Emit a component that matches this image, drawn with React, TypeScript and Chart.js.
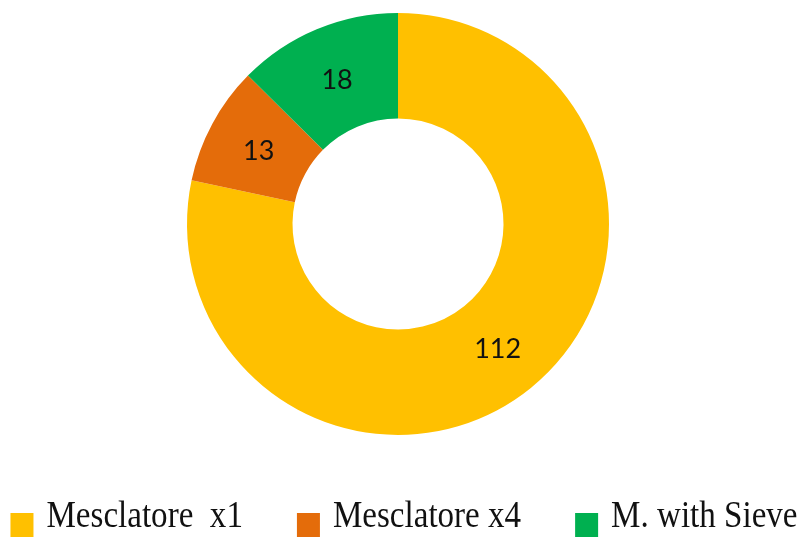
import React, { useEffect, useRef } from "react";
import { Chart, registerables } from "chart.js";

Chart.register(...registerables);

const categories = ["Mesclatore  x1", "Mesclatore x4", "M. with Sieve"];
const values = [112, 13, 18];
const colors = ["#FFC000", "#E46C0A", "#00B050"];

const sliceLabels = {
  id: "sliceLabels",
  afterDatasetsDraw(chart: any) {
    const ctx = chart.ctx;
    const meta = chart.getDatasetMeta(0);
    ctx.save();
    ctx.font = "27px Lato, 'Open Sans', sans-serif";
    ctx.fillStyle = "#111111";
    ctx.textAlign = "center";
    ctx.textBaseline = "middle";
    meta.data.forEach((arc: any, i: number) => {
      const p = arc.tooltipPosition();
      ctx.fillText(String(values[i]), p.x, p.y + 2);
    });
    ctx.restore();
  },
};

const bottomLegend = {
  id: "bottomLegend",
  afterDraw(chart: any) {
    const ctx = chart.ctx;
    const fontSize = 38;
    const scaleX = 0.87;
    const boxW = 23;
    const gap = 13;
    const itemSpacing = 54;
    ctx.save();
    ctx.font = `${fontSize}px 'Liberation Serif', 'DejaVu Serif', serif`;
    const widths = categories.map((c) => ctx.measureText(c).width * scaleX);
    const total =
      widths.reduce((s, w) => s + boxW + gap + w, 0) + itemSpacing * (categories.length - 1);
    let x = (chart.width - total) / 2 + 3;
    const baseline = 527;
    categories.forEach((c, i) => {
      ctx.fillStyle = colors[i];
      ctx.fillRect(x, 513, boxW, 30);
      const tx = x + boxW + gap;
      ctx.save();
      ctx.translate(tx, baseline);
      ctx.scale(scaleX, 1);
      ctx.fillStyle = "#111111";
      ctx.textAlign = "left";
      ctx.textBaseline = "alphabetic";
      ctx.fillText(c, 0, 0);
      ctx.restore();
      x = tx + widths[i] + itemSpacing;
    });
    ctx.restore();
  },
};

export default function App() {
  const ref = useRef<HTMLCanvasElement | null>(null);
  useEffect(() => {
    if (!ref.current) return;
    const chart = new Chart(ref.current, {
      type: "doughnut",
      data: {
        labels: categories,
        datasets: [
          {
            data: values,
            backgroundColor: colors,
            borderWidth: 0,
            hoverOffset: 0,
          },
        ],
      },
      options: {
        responsive: false,
        animation: false,
        cutout: "50%",
        layout: { padding: { top: 13, bottom: 102, left: 0, right: 6 } },
        plugins: {
          legend: { display: false },
          tooltip: { enabled: false },
        },
      },
      plugins: [sliceLabels, bottomLegend],
    });
    return () => chart.destroy();
  }, []);
  return (
    <div style={{ position: "fixed", left: 0, top: 0, width: 802, height: 537, background: "#fff" }}>
      <canvas ref={ref} width={802} height={537} />
    </div>
  );
}
